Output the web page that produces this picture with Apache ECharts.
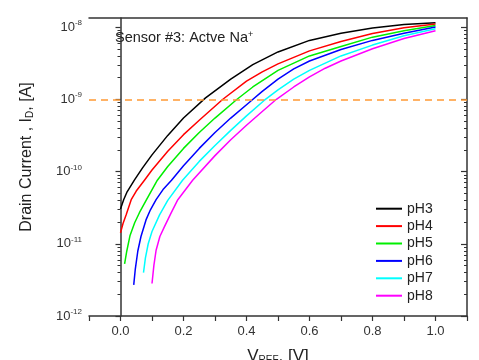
<!DOCTYPE html>
<html><head><meta charset="utf-8">
<script src="https://cdn.jsdelivr.net/npm/echarts@6/dist/echarts.min.js"></script>
<style>html,body{margin:0;padding:0;background:#fff}#c{width:479px;height:360px}</style>
</head><body><div id="c"></div>
<script>
// ---- data (V_REF in volts, drain current as log10(I_D / A)) ----
const seriesNames = ['pH3', 'pH4', 'pH5', 'pH6', 'pH7', 'pH8'];

const vref_pH3 = [0, 0.01, 0.02, 0.044, 0.07, 0.1, 0.15, 0.2, 0.27, 0.35, 0.42, 0.5, 0.6, 0.7, 0.8, 0.9, 1.0];
const logI_pH3 = [-10.52, -10.39, -10.29, -10.12, -9.95, -9.77, -9.50, -9.26, -8.98, -8.72, -8.52, -8.345, -8.185, -8.085, -8.015, -7.965, -7.94];

const vref_pH4 = [0, 0.008, 0.018, 0.034, 0.05, 0.076, 0.1, 0.15, 0.2, 0.25, 0.325, 0.4, 0.45, 0.5, 0.6, 0.7, 0.8, 0.9, 1.0];
const logI_pH4 = [-10.85, -10.72, -10.60, -10.39, -10.27, -10.12, -9.98, -9.72, -9.49, -9.29, -9.0, -8.75, -8.62, -8.51, -8.33, -8.20, -8.09, -8.01, -7.958];

const vref_pH5 = [0.013, 0.02, 0.03, 0.045, 0.06, 0.08, 0.117, 0.15, 0.2, 0.25, 0.3, 0.37, 0.42, 0.5, 0.6, 0.7, 0.8, 0.9, 1.0];
const logI_pH5 = [-11.28, -11.10, -10.89, -10.71, -10.57, -10.41, -10.12, -9.93, -9.68, -9.46, -9.26, -9.0, -8.83, -8.60, -8.40, -8.27, -8.14, -8.05, -7.98];

const vref_pH6 = [0.042, 0.047, 0.055, 0.065, 0.081, 0.095, 0.113, 0.135, 0.162, 0.2, 0.25, 0.3, 0.35, 0.415, 0.45, 0.5, 0.55, 0.6, 0.7, 0.8, 0.9, 1.0];
const logI_pH6 = [-11.57, -11.35, -11.10, -10.90, -10.67, -10.53, -10.39, -10.25, -10.12, -9.92, -9.68, -9.46, -9.26, -9.02, -8.89, -8.72, -8.58, -8.47, -8.31, -8.185, -8.085, -8.0];

const vref_pH7 = [0.073, 0.079, 0.088, 0.1, 0.124, 0.15, 0.197, 0.25, 0.3, 0.35, 0.4, 0.455, 0.5, 0.55, 0.6, 0.7, 0.8, 0.9, 1.0];
const logI_pH7 = [-11.40, -11.20, -11.0, -10.83, -10.60, -10.40, -10.12, -9.86, -9.64, -9.43, -9.23, -9.02, -8.87, -8.72, -8.60, -8.40, -8.25, -8.12, -8.023];

const vref_pH8 = [0.10, 0.106, 0.113, 0.125, 0.14, 0.16, 0.182, 0.229, 0.3, 0.35, 0.4, 0.45, 0.495, 0.55, 0.6, 0.65, 0.7, 0.8, 0.9, 1.0];
const logI_pH8 = [-11.55, -11.30, -11.09, -10.90, -10.76, -10.58, -10.39, -10.12, -9.78, -9.56, -9.36, -9.17, -9.0, -8.83, -8.69, -8.57, -8.47, -8.30, -8.16, -8.051];

const thresholdLogI = -9;                       // 1e-9 A reference line
const yTickExponents = [-12, -11, -10, -9, -8];  // 10^n tick labels
const xTickLabels = [0.0, 0.2, 0.4, 0.6, 0.8, 1.0];

// ---- styling ----
const seriesColors = ['#000000', '#ff0000', '#00ee00', '#0000ff', '#00ffff', '#ff00ff'];
const FONT = "'Liberation Sans', Arial, sans-serif";
const AX = '#333333';

const allV = [vref_pH3, vref_pH4, vref_pH5, vref_pH6, vref_pH7, vref_pH8];
const allL = [logI_pH3, logI_pH4, logI_pH5, logI_pH6, logI_pH7, logI_pH8];

const yMin = -12, yMax = -7.875;
const minorY = [];
for (let n = -12; n < -7.9; n++) for (let k = 2; k <= 9; k++) { const t = n + Math.log10(k); if (t < yMax) minorY.push(t); }

const series = seriesNames.map((name, i) => ({
  name, type: 'line', xAxisIndex: 0, yAxisIndex: 0,
  data: allV[i].map((v, j) => [v, allL[i][j]]),
  showSymbol: false, symbol: 'none', smooth: false,
  lineStyle: { color: seriesColors[i], width: 1.5, join: 'round' },
  itemStyle: { color: seriesColors[i] },
  z: 3
}));
series[0].markLine = {
  silent: true, symbol: ['none', 'none'], label: { show: false },
  lineStyle: { color: '#ff9933', type: [7, 5], width: 1.5 },
  data: [{ yAxis: thresholdLogI }]
};

const yBase = { type: 'value', min: yMin, max: yMax, gridIndex: 0, splitLine: { show: false } };
const chart = echarts.init(document.getElementById('c'));
chart.setOption({
  animation: false,
  backgroundColor: '#ffffff',
  grid: { left: 89, right: 12, top: 18, bottom: 44 },
  xAxis: [
    { type: 'value', min: -0.1, max: 1.1, interval: 0.1, position: 'bottom',
      axisLine: { lineStyle: { color: AX, width: 1.5 } },
      axisTick: { length: 5, lineStyle: { color: AX, width: 1.2 } },
      axisLabel: { customValues: xTickLabels, margin: 9, fontSize: 13, fontFamily: FONT, color: '#333',
        formatter: v => (Math.round(v * 10) % 2 === 0 ? v.toFixed(1) : '') },
      splitLine: { show: false } },
    { type: 'value', min: -0.1, max: 1.1, position: 'top',
      axisLine: { lineStyle: { color: AX, width: 1.5 } },
      axisTick: { show: false }, axisLabel: { show: false }, splitLine: { show: false } }
  ],
  yAxis: [
    Object.assign({}, yBase, { interval: 1, position: 'left',
      axisLine: { show: true, lineStyle: { color: AX, width: 1.5 } },
      axisTick: { customValues: yTickExponents, length: 5, lineStyle: { color: AX, width: 1.2 } },
      axisLabel: { customValues: yTickExponents, margin: 7, fontFamily: FONT, color: '#333',
        formatter: v => '{b|10}{s|' + Math.round(v) + '}',
        rich: { b: { fontSize: 13, fontFamily: FONT, color: '#333', lineHeight: 16 },
                s: { fontSize: 8, fontFamily: FONT, color: '#333', verticalAlign: 'top', lineHeight: 8 } } } }),
    Object.assign({}, yBase, { position: 'left',
      axisLine: { show: false },
      axisTick: { customValues: minorY, length: 3, lineStyle: { color: AX, width: 1 } },
      axisLabel: { show: false } }),
    Object.assign({}, yBase, { position: 'right',
      axisLine: { show: true, lineStyle: { color: AX, width: 1.5 } },
      axisTick: { inside: true, customValues: yTickExponents, length: 6, lineStyle: { color: AX, width: 1.2 } },
      axisLabel: { show: false } }),
    Object.assign({}, yBase, { position: 'right',
      axisLine: { show: false },
      axisTick: { inside: true, customValues: minorY, length: 3, lineStyle: { color: AX, width: 1 } },
      axisLabel: { show: false } })
  ],
  legend: {
    data: seriesNames, orient: 'vertical', left: 376, top: 200, padding: 0,
    icon: 'rect', itemWidth: 26, itemHeight: 2, itemGap: 0,
    textStyle: { fontSize: 14, fontFamily: FONT, color: '#222', lineHeight: 17.4 }
  },
  graphic: [
    { type: 'text', x: 115, y: 38, z: 10,
      style: { text: '{a|Sensor #3: Actve Na}{s|+}', verticalAlign: 'middle',
        rich: { a: { fontSize: 14.5, fontFamily: FONT, fill: '#222' },
                s: { fontSize: 9, fontFamily: FONT, fill: '#222', verticalAlign: 'top' } } } },
    { type: 'text', x: 27, y: 157, rotation: Math.PI / 2, z: 10,
      style: { text: '{a|Drain Current , I}{d|D}{a|, [A]}', align: 'center', verticalAlign: 'middle',
        rich: { a: { fontSize: 16, fontFamily: FONT, fill: '#222' },
                d: { fontSize: 10, fontFamily: FONT, fill: '#222', verticalAlign: 'bottom' } } } },
    { type: 'text', x: 278, y: 348, z: 10,
      style: { text: '{a|V}{d|REF}{a|, [V]}', align: 'center', verticalAlign: 'top',
        rich: { a: { fontSize: 17, fontFamily: FONT, fill: '#222' },
                d: { fontSize: 10, fontFamily: FONT, fill: '#222', verticalAlign: 'bottom' } } } }
  ],
  series
});
</script></body></html>
